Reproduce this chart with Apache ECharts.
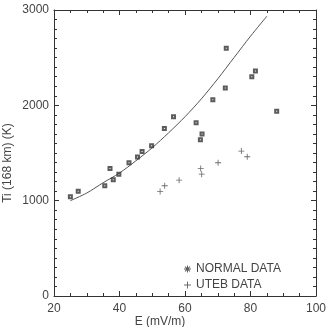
<!DOCTYPE html>
<html>
<head>
<meta charset="utf-8">
<script src="https://cdn.jsdelivr.net/npm/echarts@6/dist/echarts.min.js"></script>
<style>
  html, body { margin: 0; padding: 0; background: #fff; }
  #chart { width: 326px; height: 327px; }
</style>
</head>
<body>
<div id="chart"></div>
<script>
// E (mV/m) and Ti (K)
const normalE = [25.0, 27.4, 35.5, 37.1, 38.1, 39.8, 42.9, 45.5, 46.9, 49.8, 53.7, 56.5, 63.4, 64.7, 65.2, 68.5, 72.3, 72.6, 80.4, 81.5, 88.0]
const normalT = [1040, 1100, 1156, 1338, 1219, 1278, 1398, 1457, 1516, 1576, 1758, 1880, 1817, 1639, 1698, 2059, 2181, 2600, 2300, 2359, 1939]

const utebE = [52.4, 53.8, 58.2, 64.8, 65.1, 70.1, 77.2, 79.0]
const utebT = [1097, 1156, 1215, 1338, 1278, 1398, 1520, 1461]

// fitted curve
const curveE = [25, 30, 35, 40, 45, 50, 55, 60, 65, 70, 75, 80, 85]
const curveT = [1000, 1080, 1188, 1290, 1418, 1555, 1712, 1880, 2068, 2278, 2502, 2725, 2935]

const xTicks = [20, 40, 60, 80, 100]
const yTicks = [0, 1000, 2000, 3000]

const font = 'Liberation Sans, Arial, sans-serif'
const ink = '#333'
const textColor = '#444'

// boxed asterisk for plotted points, plain asterisk and plus for legend
const boxSymbol = 'path://M0,0L10,0L10,10L0,10Z M4,4L4,6L6,6L6,4Z'
const starSymbol = 'path://M4.3,0L5.7,0L5.7,10L4.3,10Z M0,4.3L10,4.3L10,5.7L0,5.7Z M1,2L2,1L9,8L8,9Z M8,1L9,2L2,9L1,8Z'
const plusSymbol = 'path://M4.3,0L5.7,0L5.7,4.3L10,4.3L10,5.7L5.7,5.7L5.7,10L4.3,10L4.3,5.7L0,5.7L0,4.3L4.3,4.3Z'

const chart = echarts.init(document.getElementById('chart'))

// frame axis: ticks pointing into the plot on all four sides
function frameAxis(position, ticks, minorSplit, showLabel) {
  return {
    type: 'value',
    position,
    min: ticks[0],
    max: ticks[ticks.length - 1],
    interval: ticks[1] - ticks[0],
    axisLine: { show: true, onZero: false, lineStyle: { color: ink, width: 1 } },
    axisTick: { show: true, inside: true },
    minorTick: { show: true, splitNumber: minorSplit },
    splitLine: { show: false },
    axisLabel: showLabel
      ? { show: true, color: textColor, fontSize: 12, fontFamily: font, margin: position === 'left' ? 5 : 7, formatter: v => String(v) }
      : { show: false },
  }
}

const option = {
  backgroundColor: '#fff',
  animation: false,
  textStyle: { fontFamily: font },
  grid: { left: 54, right: 10, top: 10, bottom: 31, outerBoundsMode: 'none' },
  legend: {
    orient: 'vertical',
    left: 179,
    top: 258,
    itemWidth: 7,
    itemHeight: 7,
    itemGap: 4,
    textStyle: { fontSize: 12, color: textColor, fontFamily: font },
    data: [
      { name: 'NORMAL DATA', icon: starSymbol },
      { name: 'UTEB DATA', icon: plusSymbol },
    ],
  },
  xAxis: [
    frameAxis('bottom', xTicks, 4, true),
    frameAxis('top', xTicks, 4, false),
  ],
  yAxis: [
    frameAxis('left', yTicks, 10, true),
    frameAxis('right', yTicks, 10, false),
  ],
  graphic: [
    {
      type: 'text',
      x: 8,
      y: 163,
      rotation: Math.PI / 2,
      style: { text: 'Ti (168 km) (K)', font: '12px ' + font, fill: textColor, align: 'center', verticalAlign: 'middle' },
    },
    {
      type: 'text',
      x: 160,
      y: 322,
      style: { text: 'E (mV/m)', font: '12px ' + font, fill: textColor, align: 'center', verticalAlign: 'middle' },
    },
  ],
  series: [
    {
      name: 'fit',
      type: 'line',
      data: curveE.map((e, i) => [e, curveT[i]]),
      smooth: 0.3,
      showSymbol: false,
      lineStyle: { color: '#555', width: 1 },
      z: 1,
    },
    {
      name: 'NORMAL DATA',
      type: 'scatter',
      data: normalE.map((e, i) => [e, normalT[i]]),
      symbol: boxSymbol,
      symbolSize: 5,
      itemStyle: { color: ink },
      z: 3,
    },
    {
      name: 'UTEB DATA',
      type: 'scatter',
      data: utebE.map((e, i) => [e, utebT[i]]),
      symbol: plusSymbol,
      symbolSize: 6,
      itemStyle: { color: '#444' },
      z: 3,
    },
  ],
}

chart.setOption(option)
</script>
</body>
</html>
